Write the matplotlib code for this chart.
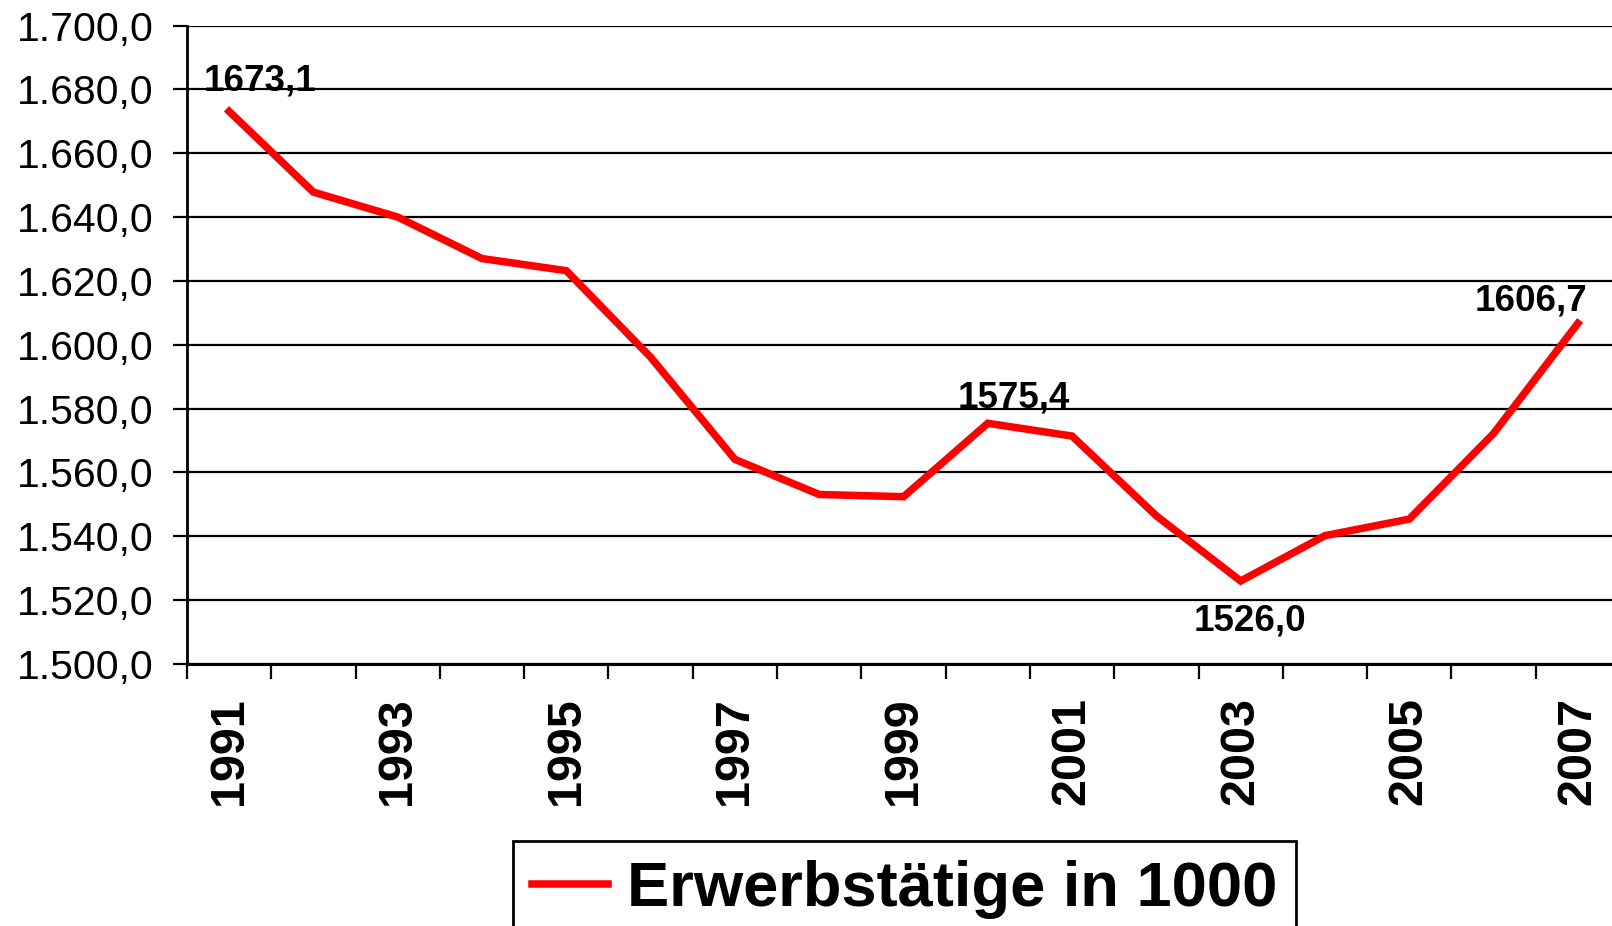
import matplotlib
matplotlib.use("Agg")
import matplotlib.pyplot as plt
from matplotlib.ticker import FixedLocator, FuncFormatter

plt.rcParams['font.family'] = ['Liberation Sans', 'DejaVu Sans']

years = list(range(1991, 2008))
erwerbstaetige = [1673.1, 1647.8, 1640.0, 1627.0, 1623.2, 1596.1, 1564.1, 1553.1,
                  1552.4, 1575.4, 1571.4, 1546.4, 1526.0, 1540.2, 1545.4, 1572.2, 1606.7]
year_labels = [str(y) if (y - 1991) % 2 == 0 else '' for y in years]
yticks = list(range(1500, 1701, 20))

# labelled points: (year, x offset pt, y offset pt, vertical alignment)
labelled = [(1991, 22, 15, 'baseline'),
            (2000, 19, 11.5, 'baseline'),
            (2003, 7, -16, 'top'),
            (2007, -34, 9.5, 'baseline')]

fig = plt.figure(figsize=(16.12, 9.26), dpi=100)
ax = fig.add_axes([187 / 1612, 1 - 664 / 926, 1433 / 1612, (664 - 25.5) / 926])

x = list(range(len(years)))
ax.plot(x, erwerbstaetige, color='#ff0000', lw=5.4, solid_joinstyle='miter',
        label='Erwerbstätige in 1000', zorder=3)

ax.set_xlim(-0.5, len(years) - 0.5)
ax.set_ylim(1500, 1700)
ax.set_yticks(yticks)
ax.yaxis.set_major_formatter(FuncFormatter(
    lambda v, p: f"{v:,.1f}".replace(',', 'X').replace('.', ',').replace('X', '.')))
ax.grid(axis='y', color='black', lw=1.6, zorder=1)
ax.tick_params(axis='y', length=10, width=1.6, pad=14, labelsize=29.5)

ax.set_xticks(x)
ax.set_xticklabels(year_labels, rotation=90, fontsize=35, fontweight='bold')
ax.tick_params(axis='x', which='major', length=0, pad=24)
ax.xaxis.set_minor_locator(FixedLocator([i - 0.5 for i in range(len(years) + 1)]))
ax.tick_params(axis='x', which='minor', length=11, width=1.6)

for side in ['top', 'right']:
    ax.spines[side].set_visible(False)
ax.spines['left'].set_linewidth(2)
ax.spines['bottom'].set_linewidth(2.2)

for yr, dx, dy, va in labelled:
    i = years.index(yr)
    ax.annotate(f"{erwerbstaetige[i]:.1f}".replace('.', ','), xy=(i, erwerbstaetige[i]),
                xytext=(dx, dy), textcoords='offset points', ha='center', va=va,
                fontsize=26.5, fontweight='bold')

leg = fig.legend(loc='upper left', bbox_to_anchor=(513 / 1612, 1 - 841 / 926),
                 prop={'size': 45.5, 'weight': 'bold'}, frameon=True, fancybox=False,
                 borderaxespad=0, handlelength=1.2, handletextpad=0.3, borderpad=0.3)
leg.get_frame().set_edgecolor('black')
leg.get_frame().set_linewidth(2)
leg.get_frame().set_alpha(1)

fig.savefig('out.png', dpi=100)
